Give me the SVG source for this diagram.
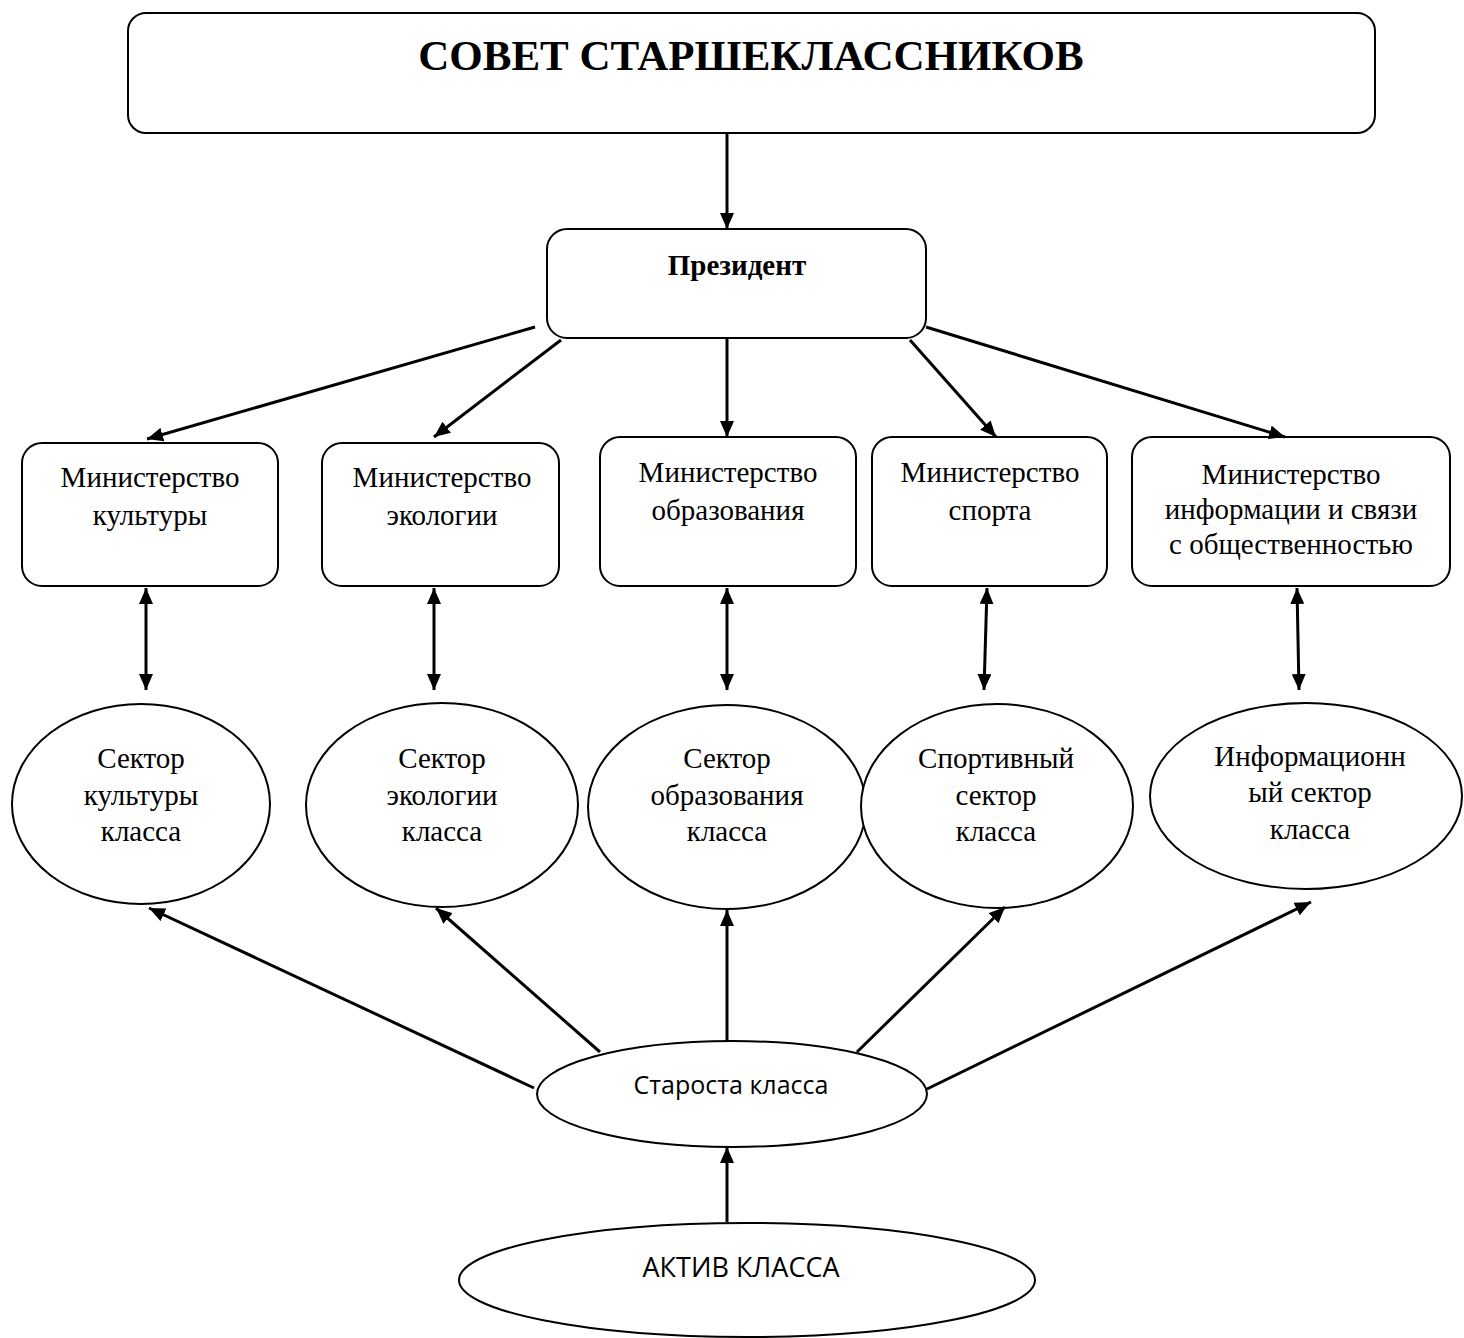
<svg xmlns="http://www.w3.org/2000/svg" width="1464" height="1338" viewBox="0 0 1464 1338">
<style>
.box{fill:#fff;stroke:#000;stroke-width:2}
.ser{font-family:"Liberation Serif","Times New Roman",serif;font-size:29px;fill:#000;text-anchor:middle}
.bold{font-weight:bold}
.sans{font-family:"Open Sans","Liberation Sans",sans-serif;font-size:25px;fill:#000;text-anchor:middle}
.con line{stroke:#000;stroke-width:3;fill:none}
</style>
<defs>
<marker id="ah" viewBox="0 0 16 14" refX="16" refY="7" markerWidth="16" markerHeight="14" markerUnits="userSpaceOnUse" orient="auto-start-reverse">
<path d="M0,0 L16,7 L0,14 z" fill="#000"/>
</marker>
</defs>
<rect width="1464" height="1338" fill="#fff"/>

<g id="council">
<rect class="box" x="128" y="13" width="1247" height="120" rx="18"/>
<text class="ser bold" x="751" y="70" style="font-size:43px">СОВЕТ СТАРШЕКЛАССНИКОВ</text>
</g>
<g id="president">
<rect class="box" x="547" y="229" width="379" height="109" rx="20"/>
<text class="ser bold" x="737" y="275">Президент</text>
</g>

<g id="min-culture">
<rect class="box" x="22" y="443" width="256" height="143" rx="20"/>
<text class="ser" x="150" y="487">Министерство</text>
<text class="ser" x="150" y="525">культуры</text>
</g>
<g id="min-ecology">
<rect class="box" x="322" y="443" width="237" height="143" rx="20"/>
<text class="ser" x="442" y="487">Министерство</text>
<text class="ser" x="442" y="525">экологии</text>
</g>
<g id="min-education">
<rect class="box" x="600" y="437" width="256" height="149" rx="20"/>
<text class="ser" x="728" y="482">Министерство</text>
<text class="ser" x="728" y="520">образования</text>
</g>
<g id="min-sport">
<rect class="box" x="872" y="437" width="235" height="149" rx="20"/>
<text class="ser" x="990" y="482">Министерство</text>
<text class="ser" x="990" y="520">спорта</text>
</g>
<g id="min-info">
<rect class="box" x="1132" y="437" width="318" height="149" rx="20"/>
<text class="ser" x="1291" y="484">Министерство</text>
<text class="ser" x="1291" y="519">информации и связи</text>
<text class="ser" x="1291" y="554">с общественностью</text>
</g>

<g id="sec-culture">
<ellipse class="box" cx="141" cy="804" rx="129" ry="100"/>
<text class="ser" x="141" y="768">Сектор</text>
<text class="ser" x="141" y="805">культуры</text>
<text class="ser" x="141" y="841">класса</text>
</g>
<g id="sec-ecology">
<ellipse class="box" cx="442" cy="805" rx="136" ry="102"/>
<text class="ser" x="442" y="768">Сектор</text>
<text class="ser" x="442" y="805">экологии</text>
<text class="ser" x="442" y="841">класса</text>
</g>
<g id="sec-education">
<ellipse class="box" cx="727" cy="807" rx="139" ry="102"/>
<text class="ser" x="727" y="768">Сектор</text>
<text class="ser" x="727" y="805">образования</text>
<text class="ser" x="727" y="841">класса</text>
</g>
<g id="sec-sport">
<ellipse class="box" cx="997" cy="806" rx="136" ry="102"/>
<text class="ser" x="996" y="768">Спортивный</text>
<text class="ser" x="996" y="805">сектор</text>
<text class="ser" x="996" y="841">класса</text>
</g>
<g id="sec-info">
<ellipse class="box" cx="1306" cy="796" rx="156" ry="93"/>
<text class="ser" x="1310" y="766">Информационн</text>
<text class="ser" x="1310" y="802">ый сектор</text>
<text class="ser" x="1310" y="839">класса</text>
</g>

<g id="starosta">
<ellipse class="box" cx="732" cy="1094" rx="195" ry="53"/>
<text class="sans" x="731" y="1094">Староста класса</text>
</g>
<g id="aktiv">
<ellipse class="box" cx="747" cy="1280" rx="288" ry="57"/>
<text class="sans" x="741" y="1277" style="font-size:27px">АКТИВ КЛАССА</text>
</g>

<g id="connectors" class="con">
<line x1="727" y1="133" x2="727" y2="229" marker-end="url(#ah)"/>
<line x1="535" y1="327" x2="147" y2="439" marker-end="url(#ah)"/>
<line x1="561" y1="340" x2="434" y2="437" marker-end="url(#ah)"/>
<line x1="727" y1="338" x2="727" y2="437" marker-end="url(#ah)"/>
<line x1="910" y1="340" x2="996" y2="437" marker-end="url(#ah)"/>
<line x1="926" y1="327" x2="1285" y2="437" marker-end="url(#ah)"/>
<line x1="146" y1="588" x2="146" y2="690" marker-start="url(#ah)" marker-end="url(#ah)"/>
<line x1="434" y1="588" x2="434" y2="690" marker-start="url(#ah)" marker-end="url(#ah)"/>
<line x1="727" y1="588" x2="727" y2="690" marker-start="url(#ah)" marker-end="url(#ah)"/>
<line x1="987" y1="588" x2="984" y2="690" marker-start="url(#ah)" marker-end="url(#ah)"/>
<line x1="1297" y1="588" x2="1299" y2="690" marker-start="url(#ah)" marker-end="url(#ah)"/>
<line x1="534" y1="1088" x2="149" y2="908" marker-end="url(#ah)"/>
<line x1="600" y1="1052" x2="436" y2="908" marker-end="url(#ah)"/>
<line x1="727" y1="1042" x2="727" y2="910" marker-end="url(#ah)"/>
<line x1="857" y1="1052" x2="1005" y2="907" marker-end="url(#ah)"/>
<line x1="927" y1="1089" x2="1311" y2="902" marker-end="url(#ah)"/>
<line x1="727" y1="1222" x2="727" y2="1147" marker-end="url(#ah)"/>
</g>
</svg>
